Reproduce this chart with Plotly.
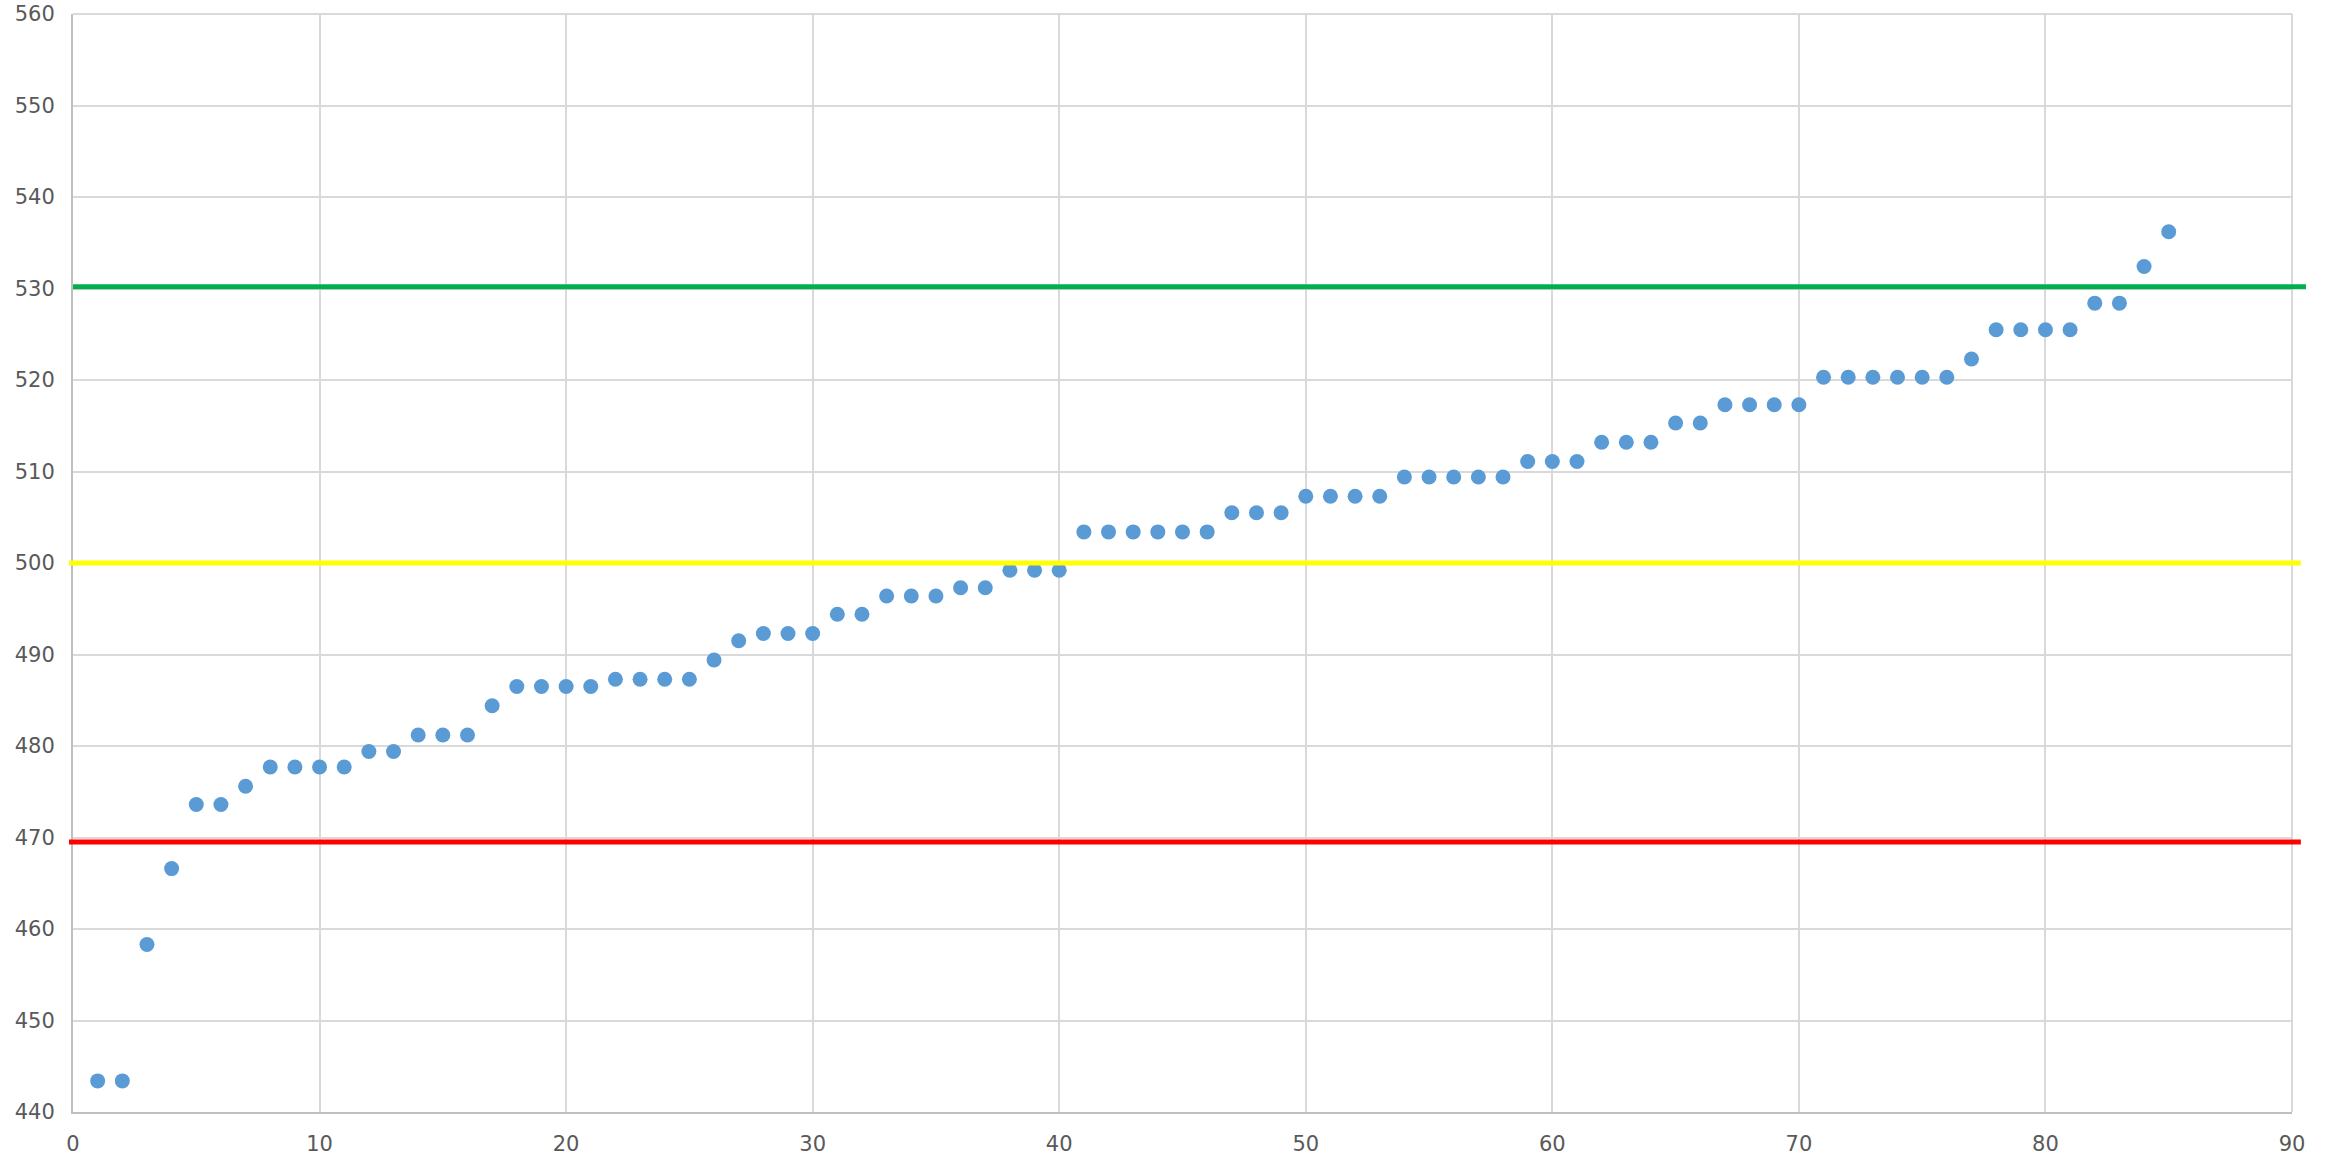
import plotly.graph_objects as go

x_values = list(range(1, 86))
y_values = [
    443.4, 443.4, 458.3, 466.6, 473.6, 473.6, 475.6, 477.7, 477.7, 477.7,
    477.7, 479.4, 479.4, 481.2, 481.2, 481.2, 484.4, 486.5, 486.5, 486.5,
    486.5, 487.3, 487.3, 487.3, 487.3, 489.4, 491.5, 492.3, 492.3, 492.3,
    494.4, 494.4, 496.4, 496.4, 496.4, 497.3, 497.3, 499.2, 499.2, 499.2,
    503.4, 503.4, 503.4, 503.4, 503.4, 503.4, 505.5, 505.5, 505.5, 507.3,
    507.3, 507.3, 507.3, 509.4, 509.4, 509.4, 509.4, 509.4, 511.1, 511.1,
    511.1, 513.2, 513.2, 513.2, 515.3, 515.3, 517.3, 517.3, 517.3, 517.3,
    520.3, 520.3, 520.3, 520.3, 520.3, 520.3, 522.3, 525.5, 525.5, 525.5,
    525.5, 528.4, 528.4, 532.4, 536.2,
]

threshold_values = [530.2, 500.0, 469.5]
threshold_colors = ["#00B050", "#FFFF00", "#FF0000"]
threshold_x0 = [0.0, -0.0018, -0.0018]
threshold_x1 = [1.0063, 1.004, 1.004]

x_ticks = [0, 10, 20, 30, 40, 50, 60, 70, 80, 90]
y_ticks = [440, 450, 460, 470, 480, 490, 500, 510, 520, 530, 540, 550, 560]

fig = go.Figure()
fig.add_trace(go.Scatter(
    x=x_values, y=y_values, mode="markers",
    marker=dict(color="#5B9BD5", size=15, line=dict(width=0)),
    showlegend=False, cliponaxis=False,
))

# top and right border gridlines (plotly omits gridlines at the range ends)
fig.add_shape(type="line", xref="paper", yref="paper", x0=0, x1=1, y0=1, y1=1,
              line=dict(color="#D9D9D9", width=2), layer="below")
fig.add_shape(type="line", xref="paper", yref="paper", x0=1, x1=1, y0=0, y1=1,
              line=dict(color="#D9D9D9", width=2), layer="below")

for v, c, a, b in zip(threshold_values, threshold_colors, threshold_x0, threshold_x1):
    fig.add_shape(type="line", xref="paper", yref="y", x0=a, x1=b, y0=v, y1=v,
                  line=dict(color=c, width=5), layer="above")

fig.update_layout(
    width=2336, height=1159,
    margin=dict(l=73, r=44, t=14, b=47, autoexpand=False),
    paper_bgcolor="white", plot_bgcolor="white",
    font=dict(family="DejaVu Sans", size=21, color="#595959"),
)
fig.update_xaxes(
    range=[0, 90], tickvals=x_ticks, ticktext=[str(t) for t in x_ticks],
    showgrid=True, gridcolor="#D9D9D9", gridwidth=2,
    showline=True, linecolor="#BFBFBF", linewidth=2, mirror=False,
    zeroline=False, ticks="", ticklabelstandoff=12, ticklabeloverflow="allow",
    automargin=False,
)
fig.update_yaxes(
    range=[440, 560], tickvals=y_ticks, ticktext=[str(t) for t in y_ticks],
    showgrid=True, gridcolor="#D9D9D9", gridwidth=2,
    showline=True, linecolor="#BFBFBF", linewidth=2,
    zeroline=False, ticks="", ticklabelstandoff=12, ticklabeloverflow="allow",
    automargin=False,
)

fig.write_html(
    "out.html",
    config={"displayModeBar": False},
    post_script="document.body.style.margin='0';document.body.style.overflow='hidden';",
)
